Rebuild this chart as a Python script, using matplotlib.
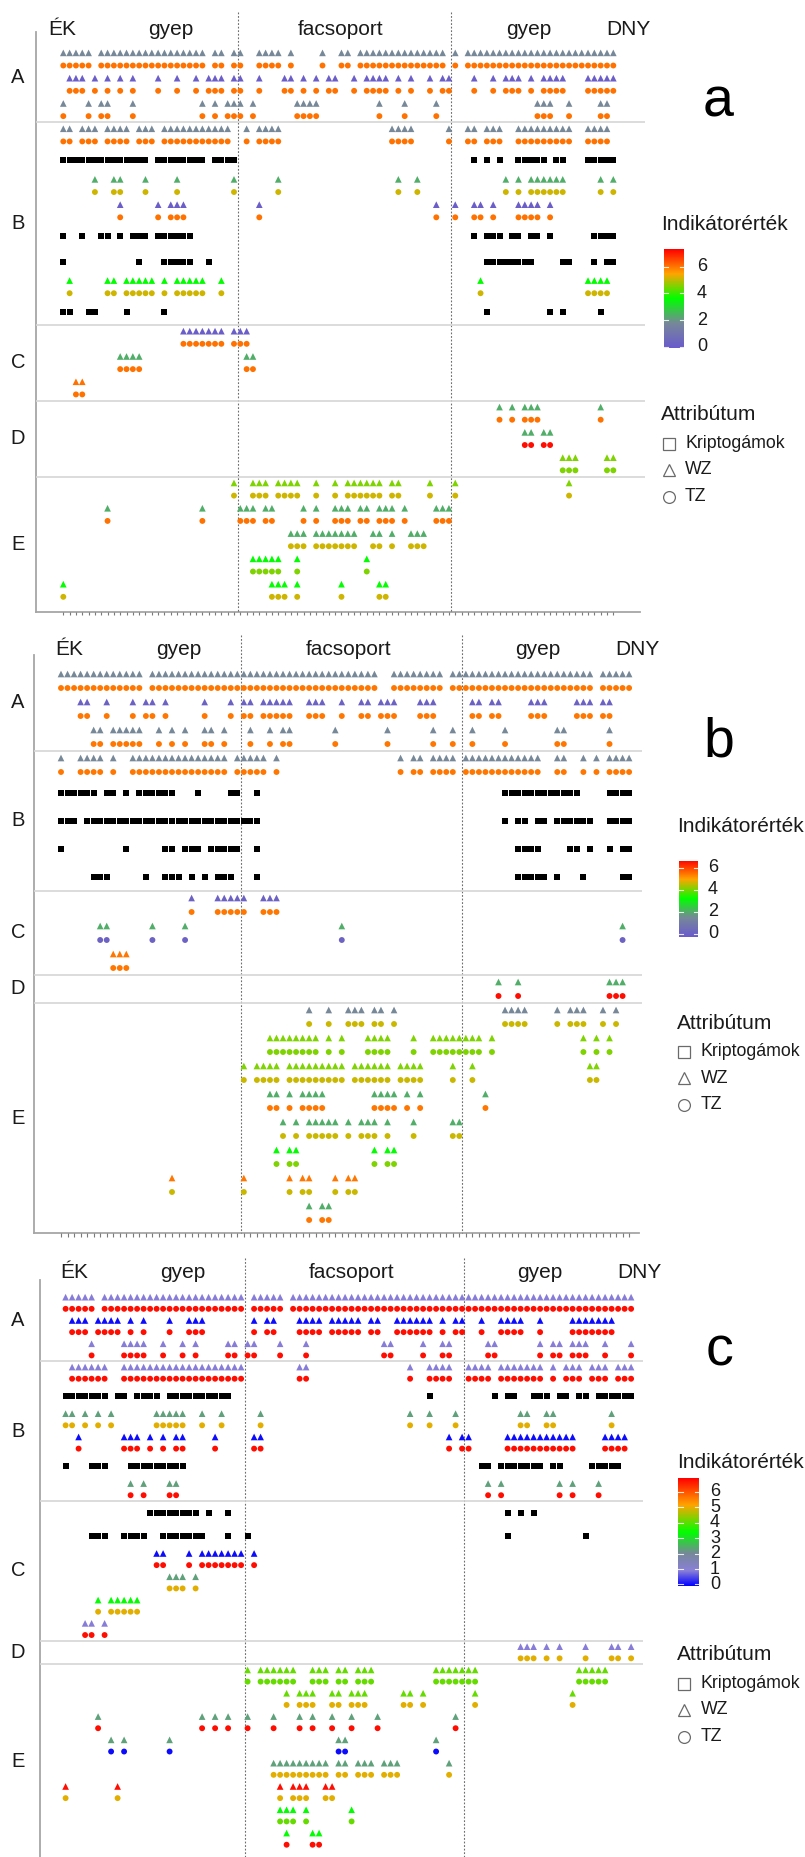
import numpy as np
import matplotlib
matplotlib.use("Agg")
import matplotlib.pyplot as plt
from matplotlib.colors import LinearSegmentedColormap, Normalize

plt.rcParams['font.family'] = ['Liberation Sans', 'DejaVu Sans']

# ------------------------------------------------------------------ data
n_cols = 88
top_labels = ["ÉK", "gyep", "facsoport", "gyep", "DNY"]
zone_breaks = [27.6, 61.35]
legend_labels = ["Kriptogámok", "WZ", "TZ"]
cbar_title = "Indikátorérték"
legend_title = "Attribútum"

# panel a
a_group = list("AAABBBBBBBBCCCDDDEEEEE")
a_kind = list("ppp" + "psppssps" + "ppp" + "ppp" + "ppppp")
a_wz = [1.75, 0.05, 1.75, 1.75, None, 2.34, 0.05, None, None, 3.6, None,
        0.05, 2.34, 6.0, 2.34, 2.34, 4.5, 4.5, 2.34, 2.34, 3.6, 3.6]
a_tz = [6.0, 6.0, 6.0, 6.0, None, 5.1, 6.0, None, None, 5.1, None,
        6.0, 6.0, 6.0, 6.0, 7.15, 4.5, 5.1, 6.0, 5.1, 4.5, 5.1]
a_cols = [
    "0-4,6-22,24-25,27-28,31-34,36,41,44-45,47-60,62,64-87",
    "1-3,5,7,9,11,15,18,21,23-25,27-28,31,35-36,38,40,42-43,46,48-51,53,55,58,60-61,65,68,70-72,74,76-79,83-87",
    "0,4,6-7,11,22,24,26-28,30,37-40,50,54,59,75-77,80,85-86",
    "0-1,3-5,7-10,12-14,16-26,29,31-34,52-55,61,64-65,67-69,72-80,83-86",
    "0-13,15-22,24-27,65,67,69,72-76,78-79,83-87",
    "5,8-9,13,18,27,34,53,56,70,72,74-79,85,87",
    "9,15,17-19,31,59,62,65-66,68,72-75,77",
    "0,3,6-7,9,11-13,15-20,65,67-69,71-72,74-75,77,84-87",
    "0,12,16-20,23,67-74,79-80,84,86-87",
    "1,7-8,10-14,16,18-22,25,66,83-86",
    "0-1,4-5,10,16,67,77,79,85",
    "19-25,27-29",
    "9-12,29-30",
    "2-3",
    "69,71,73-75,85",
    "73-74,76-77",
    "79-81,86-87",
    "27,30-32,34-37,40,43,45-50,52-53,58,62,80",
    "7,22,28-30,32-33,38,40,43-45,47-48,50-52,54,59-61",
    "36-38,40-46,49-50,52,55-57",
    "30-34,37,48",
    "0,33-35,37,44,50-51",
]

# panel b
b_group = list("AAABBBBBCCCDEEEEEEEE")
b_kind = list("ppp" + "pssss" + "ppp" + "p" + "pppppppp")
b_wz = [1.45, 0.0, 1.45, 1.45, None, None, None, None, 0.0, 1.98, 5.35, 1.98,
        1.45, 4.0, 4.0, 1.98, 1.98, 3.15, 5.35, 1.98]
b_tz = [5.35, 5.35, 5.35, 5.35, None, None, None, None, 5.35, 0.0, 5.35, 6.45,
        4.5, 4.0, 4.5, 5.35, 4.5, 4.0, 4.5, 5.35]
b_cols = [
    "0-12,14-48,51-58,60-81,83-87",
    "3-4,7,11,13-14,16,22,26,28-29,31-35,38-40,43,46-47,49-51,55-57,63-64,66-67,72-74,79-81,83-84",
    "5-6,8-12,15,17,19,22-23,25,29,32,34-35,42,50,57,60,63,68,76-77,84",
    "0,3-6,8,11-25,27-31,33,52,54-55,57-60,62-73,76-77,80,82,84-87",
    "0-5,7-8,10,12-17,21,26-27,30,68-79,84-87",
    "0-2,4-30,68,70-71,73-74,76-81,84-87",
    "0,10,16-17,19-21,23-27,30,70-73,78-79,81,84,86-87",
    "5-7,13,16-18,20,22,24-26,30,70-74,76,80,86-87",
    "20,24-28,31-33",
    "6-7,14,19,43,86",
    "8-10",
    "67,70,84-86",
    "38,41,44-46,48-49,51,68-71,76,78-80,83,85",
    "32-39,41,43,47-50,54,57-64,66,80,82,84",
    "28,30-33,35-43,45-50,52-55,60,63,81-82",
    "32-33,35,37-40,48-51,53,55,65",
    "34,36,38-42,44,46-48,50,54,60-61",
    "33,35-36,48,50-51",
    "17,28,35,37-38,42,44-45",
    "38,40-41",
]

# panel c
c_group = list("AAABBBBBBCCCCCCDEEEEEEEE")
c_kind = list("ppp" + "psppsp" + "sspppp" + "p" + "pppppppp")
c_wz = [0.88, 0.0, 0.88, 0.88, None, 2.3, 0.0, None, 2.3, None, None, 0.0, 2.3, 3.4, 0.88,
        0.88, 4.1, 4.1, 2.3, 2.3, 2.3, 6.76, 3.4, 3.4]
c_tz = [6.76, 6.76, 6.76, 6.76, None, 4.94, 6.76, None, 6.76, None, None, 6.76, 4.94, 4.94, 6.76,
        4.94, 4.1, 4.94, 6.76, 0.0, 4.94, 4.94, 4.1, 6.76]
c_cols = [
    "0-4,6-27,29-33,35-87",
    "1-3,5-8,10,12,16,19-21,29,31-32,36-39,41-45,47-48,51-56,58,60-61,64,67-70,73,78-84",
    "4,9-12,15,18,20,25-26,28-29,33,37,49-50,55,58-59,65-66,73,75-76,78-80,83,87",
    "1-6,9-27,36-37,53,56-59,62-65,67-73,75,77-79,81-83,85-87",
    "0-6,8-9,11-14,16-25,56,66,68-69,72-74,76-77,79-80,82-87",
    "0-1,3,5,7,14-18,21,24,30,53,56,60,70-71,74-75,84",
    "2,9-11,13,15,17-18,23,29-30,59,61-62,68-78,83-86",
    "0,4-6,10-18,64-65,67-73,75-76,81-85",
    "10,12,16-17,65,67,76,78,82",
    "13-20,22,25,68,70,72",
    "4-6,9-12,15-21,25,28,68,80",
    "14-15,19,21-27,29",
    "16-18,20",
    "5,7-11",
    "3-4,6",
    "70-72,74,76,80,84-85,87",
    "28,30-35,38-40,42-43,45-47,57-63,79-83",
    "34,36-38,41-42,44-46,52-53,55,63,78",
    "5,21,23,25,28,32,36,38,41,44,48,60",
    "7,9,16,42-43,57",
    "32-40,42-43,45-47,49-51,59",
    "0,8,33,35-37,40-41",
    "33-35,37,44",
    "34,38-39",
]

# colour scales
cmap_ab = LinearSegmentedColormap.from_list(
    "ab", ["#6A5ACD", "#778899", "#00FF00", "#FFA500", "#FF0000"])
cmap_c = LinearSegmentedColormap.from_list(
    "c", [(0, "#0000FF"), (0.14, "#8A80D8"), (0.3, "#778899"),
          (0.5, "#00FF00"), (0.75, "#FFA500"), (1, "#FF0000")])
norm_a = Normalize(-0.1, 7.3)
norm_b = Normalize(-0.3, 6.6)
norm_c = Normalize(-0.1, 6.9)
ticks_a = [0, 2, 4, 6]
ticks_b = [0, 2, 4, 6]
ticks_c = [0, 1, 2, 3, 4, 5, 6]

# ------------------------------------------------------------------ layout (pixels)
W, H = 805, 1857
LAY_A = dict(x0=63.3, dx=6.322, y0=59.2, dy=25.3, left=36, right=645, top=12,
             spine_top=31.7, bottom=611.7, axis_right=640, label_base=35,
             label_cols=[-0.2, 17, 43.8, 73.7, 89.4], letter=("a", 718, 116.7),
             cb=(664.3, 684, 249.3, 348.3), cb_lab_x=697, cb_title=(661, 224),
             leg=(661, 415))
LAY_B = dict(x0=61, dx=6.53, y0=681, dy=28.0, left=34, right=642, top=635,
             spine_top=655, bottom=1233.3, axis_right=639, label_base=655,
             label_cols=[1.3, 18, 44, 73, 88.3], letter=("b", 719, 756.7),
             cb=(679.3, 697.7, 861, 937), cb_lab_x=708, cb_title=(676.7, 826),
             leg=(676.7, 1023.3))
LAY_C = dict(x0=65.6, dx=6.5, y0=1303, dy=23.3, left=40.2, right=643, top=1258,
             spine_top=1280, bottom=1858.5, axis_right=None, label_base=1277.7,
             label_cols=[1.3, 18, 44, 73, 88.3], letter=("c", 719, 1365),
             cb=(678.3, 699.3, 1478, 1586), cb_lab_x=710, cb_title=(676.7, 1463),
             leg=(676.7, 1655))

fig = plt.figure(figsize=(W / 100, H / 100), dpi=100)
fig.patch.set_facecolor("white")

overlay = fig.add_axes([0, 0, 1, 1], zorder=10)
overlay.set_xlim(0, W)
overlay.set_ylim(H, 0)
overlay.axis("off")
overlay.patch.set_alpha(0)

GRAY_AX = "#a6a6a6"
SEP = "#d6d6d6"
TXT = "#1a1a1a"


def cols_of(spec):
    out = []
    for part in spec.split(","):
        if "-" in part:
            a, b = part.split("-")
            out.extend(range(int(a), int(b) + 1))
        else:
            out.append(int(part))
    return np.array(out)


def draw_panel(group, kind, wz, tz, cols, lay, cmap, norm, ticks):
    x0, dx, y0, dy = lay["x0"], lay["dx"], lay["y0"], lay["dy"]
    L, R, T, B = lay["left"], lay["right"], lay["top"], lay["bottom"]
    ax = fig.add_axes([L / W, 1 - B / H, (R - L) / W, (B - T) / H])
    xl, xr = (L - x0) / dx, (R - x0) / dx
    yb, yt = (B - y0) / dy, (T - y0) / dy
    ax.set_xlim(xl, xr)
    ax.set_ylim(yb, yt)
    ax.axis("off")
    ks = (lay["spine_top"] - y0) / dy

    # left spine
    ax.plot([xl, xl], [ks, yb], color=GRAY_AX, lw=1.3, clip_on=False, zorder=1)
    # bottom axis with ticks
    if lay["axis_right"] is not None:
        xa = (lay["axis_right"] - x0) / dx
        ax.plot([xl, xa], [yb, yb], color=GRAY_AX, lw=1.3, clip_on=False, zorder=1)
        ax.vlines(np.arange(n_cols), yb, yb + 3.5 / dy, color="#7a7a7a", lw=0.8,
                  clip_on=False)
    # dotted zone separators
    for zb in zone_breaks:
        ax.plot([zb, zb], [yt, yb], color="#6e6e6e", lw=0.8,
                linestyle=(0, (1.6, 1.6)), zorder=1, clip_on=False)
    # group separators & labels
    n = len(group)
    bounds = [ks]
    for k in range(1, n):
        if group[k] != group[k - 1]:
            ax.plot([xl, xr], [k - 0.5, k - 0.5], color=SEP, lw=1.2, zorder=1)
            bounds.append(k - 0.5)
    bounds.append(yb)
    gnames = [group[0]] + [group[k] for k in range(1, n) if group[k] != group[k - 1]]
    for gi, g in enumerate(gnames):
        mid = 0.5 * (bounds[gi] + bounds[gi + 1])
        overlay.text(18, y0 + dy * mid, g, ha="center", va="center",
                     fontsize=14.5, color=TXT)
    # markers
    for k in range(n):
        c = cols_of(cols[k])
        if kind[k] == "s":
            ax.scatter(c, np.full(len(c), k), marker="s", s=19, c="black",
                       linewidths=0, zorder=3)
        else:
            ax.scatter(c, np.full(len(c), k - 0.25), marker="^", s=23,
                       c=np.full(len(c), wz[k]), cmap=cmap, norm=norm,
                       linewidths=0, zorder=3)
            ax.scatter(c, np.full(len(c), k + 0.25), marker="o", s=18,
                       c=np.full(len(c), tz[k]), cmap=cmap, norm=norm,
                       linewidths=0, zorder=3)
    # top labels
    for lab, col in zip(top_labels, lay["label_cols"]):
        overlay.text(x0 + dx * col, lay["label_base"], lab, ha="center",
                     va="baseline", fontsize=15, color=TXT)
    # panel letter
    let, lx, ly = lay["letter"]
    overlay.text(lx, ly, let, ha="center", va="baseline", fontsize=40, color="black")

    # colour bar
    cL, cR, cT, cB = lay["cb"]
    cax = fig.add_axes([cL / W, 1 - cB / H, (cR - cL) / W, (cB - cT) / H])
    grad = np.linspace(norm.vmin, norm.vmax, 256)[:, None]
    cax.imshow(grad, aspect="auto", cmap=cmap, norm=norm, origin="lower",
               extent=[0, 1, norm.vmin, norm.vmax])
    cax.set_xlim(0, 1)
    cax.set_ylim(norm.vmin, norm.vmax)
    cax.axis("off")
    for t in ticks:
        cax.plot([0, 0.2], [t, t], color="white", lw=0.8, alpha=0.85)
        cax.plot([0.8, 1], [t, t], color="white", lw=0.8, alpha=0.85)
        py = cB - (t - norm.vmin) / (norm.vmax - norm.vmin) * (cB - cT)
        overlay.text(lay["cb_lab_x"], py, str(t), ha="left", va="center",
                     fontsize=13, color=TXT)
    tx, ty = lay["cb_title"]
    overlay.text(tx, ty, cbar_title, ha="left", va="center", fontsize=15, color=TXT)

    # attribute legend
    gx, gy = lay["leg"]
    overlay.text(gx, gy, legend_title, ha="left", va="center", fontsize=15, color=TXT)
    for off, mk, lab in zip([28.5, 55, 81.5], ["s", "^", "o"], legend_labels):
        overlay.plot([gx + 7.5], [gy + off], marker=mk, ms=8.5, mfc="none",
                     mec="#6a6a6a", mew=0.9, linestyle="none")
        overlay.text(gx + 24, gy + off, lab, ha="left", va="center",
                     fontsize=12.8, color=TXT)


draw_panel(a_group, a_kind, a_wz, a_tz, a_cols, LAY_A, cmap_ab, norm_a, ticks_a)
draw_panel(b_group, b_kind, b_wz, b_tz, b_cols, LAY_B, cmap_ab, norm_b, ticks_b)
draw_panel(c_group, c_kind, c_wz, c_tz, c_cols, LAY_C, cmap_c, norm_c, ticks_c)

fig.savefig("out.png", dpi=100)
